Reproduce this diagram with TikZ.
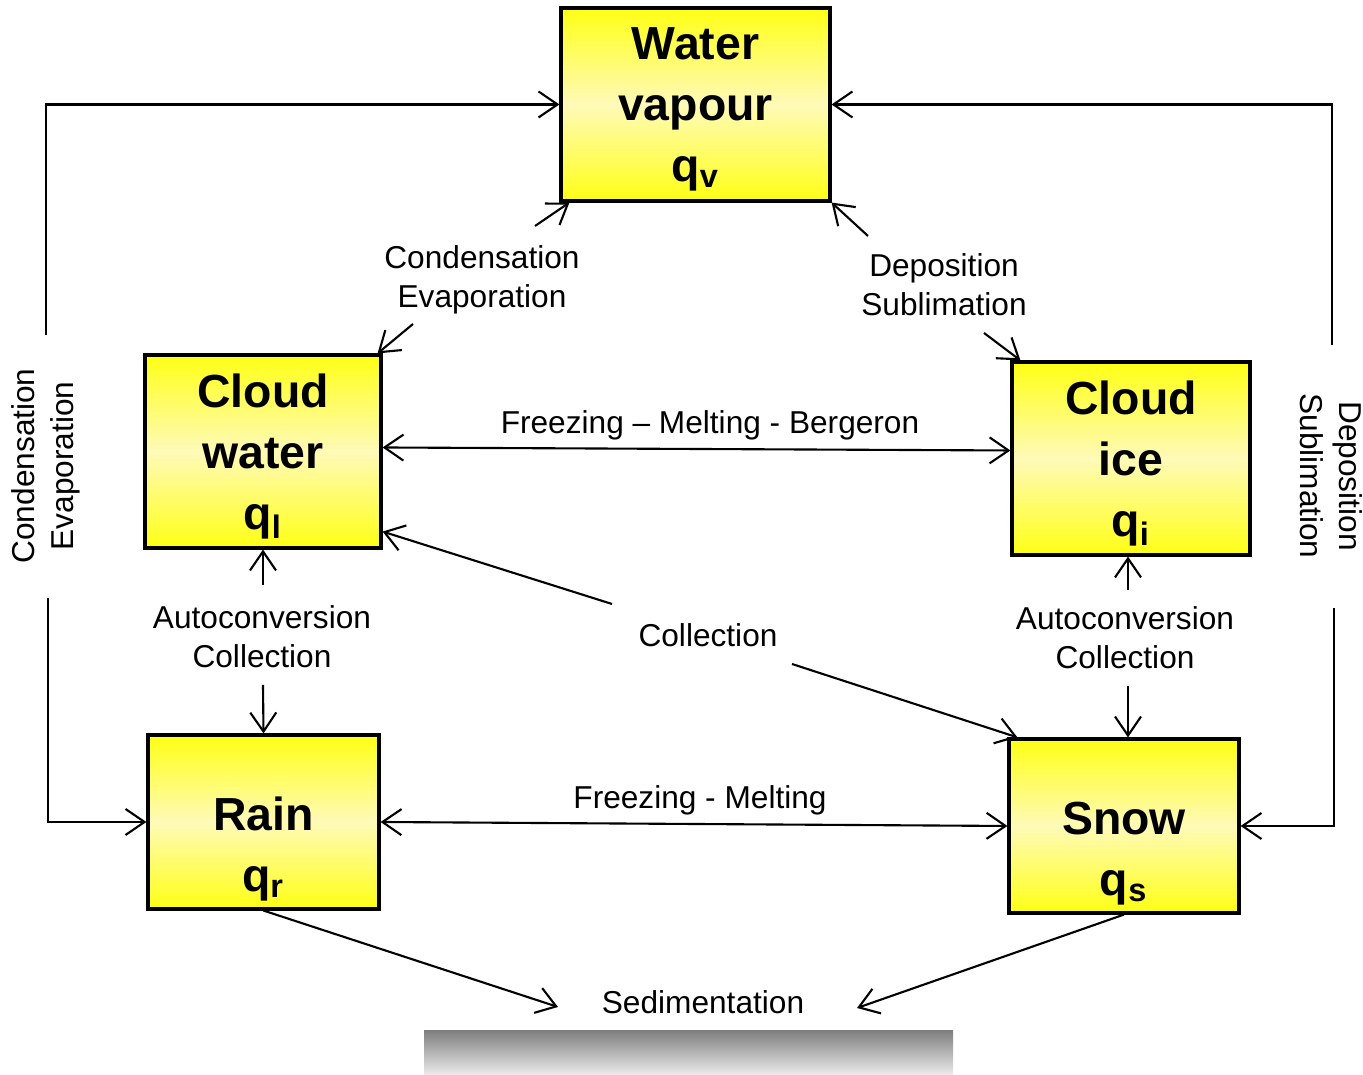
\documentclass[tikz,border=0pt]{standalone}
\usepackage{fontspec}
\setmainfont{Liberation Sans}
\usepackage{tikz}
\usetikzlibrary{arrows.meta,positioning,calc}
\definecolor{boxyellow}{HTML}{FFFF14}
\definecolor{boxpale}{HTML}{FFFAB8}
\definecolor{groundtop}{HTML}{808080}
\definecolor{groundbot}{HTML}{ECECEC}

\begin{document}
\begin{tikzpicture}[>={Straight Barb[length=1.9mm,width=2.6mm]}, line width=0.6pt,
  species/.style={draw=black, line width=0.9pt, top color=boxyellow, bottom color=boxyellow, middle color=boxpale,
    align=center, font=\fontsize{13.2}{17.3}\selectfont\bfseries, inner sep=0pt, text depth=0pt},
  proc/.style={font=\fontsize{9}{11}\selectfont, align=center, inner sep=1pt}]
\useasboundingbox (0,0) rectangle (13.63,10.75);
% the five water species
\node[species, minimum width=2.69cm, minimum height=1.93cm] (vap) at (6.955,9.705) {Water\\vapour\\q\textsubscript{v}};
\node[species, minimum width=2.36cm, minimum height=1.93cm] (cw) at (2.63,6.235) {Cloud\\water\\q\textsubscript{l}};
\node[species, minimum width=2.38cm, minimum height=1.93cm] (ci) at (11.31,6.165) {Cloud\\ice\\q\textsubscript{i}};
\node[species, minimum width=2.31cm, minimum height=1.74cm] (rain) at (2.635,2.53) {\rule{0pt}{5pt}\\Rain\\q\textsubscript{r}};
\node[species, minimum width=2.30cm, minimum height=1.74cm] (snow) at (11.24,2.49) {\rule{0pt}{5pt}\\Snow\\q\textsubscript{s}};
% ground
\shade[top color=groundtop, bottom color=groundbot] (4.24,0) rectangle (9.53,0.44);
% process labels
\node[proc] (cond) at (4.82,7.95) {Condensation\\Evaporation};
\node[proc] (dep) at (9.44,7.90) {Deposition\\Sublimation};
\node[proc] (berg) at (7.10,6.50) {Freezing -- Melting - Bergeron};
\node[proc] (acl) at (2.62,4.38) {Autoconversion\\Collection};
\node[proc] (coll) at (7.08,4.40) {Collection};
\node[proc] (acr) at (11.25,4.37) {Autoconversion\\Collection};
\node[proc] (frm) at (7.00,2.75) {Freezing - Melting};
\node[proc] (sed) at (7.03,0.73) {Sedimentation};
\node[proc, rotate=90] (condl) at (0.46,6.09) {Condensation\\Evaporation};
\node[proc, rotate=-90] (depr) at (13.31,5.99) {Deposition\\Sublimation};
% free ends of the broken connectors
\coordinate (lt) at (0.46,7.40);
\coordinate (lb) at (0.48,4.77);
\coordinate (rt) at (13.32,7.30);
\coordinate (rb) at (13.34,4.67);
\coordinate (c1) at (5.35,8.49);
\coordinate (c2) at (4.13,7.51);
\coordinate (d1) at (8.68,8.39);
\coordinate (d2) at (9.84,7.42);
\coordinate (a1) at (2.63,4.90);
\coordinate (a2) at (2.63,3.90);
\coordinate (a3) at (11.28,4.85);
\coordinate (a4) at (11.28,3.89);
\coordinate (k1) at (6.12,4.71);
\coordinate (k2) at (7.92,4.11);
\coordinate (s1) at (5.58,0.68);
\coordinate (s2) at (8.57,0.67);
% connectors
\draw[->] (lt) |- (vap.west);
\draw[->] (lb) |- (rain.west);
\draw[->] (rt) |- (vap.east);
\draw[->] (rb) |- (snow.east);
\draw[->] (c1) -- ([xshift=1mm]vap.south west);
\draw[->] (c2) -- ([xshift=-0.5mm]cw.north east);
\draw[->] (d1) -- (vap.south east);
\draw[->] (d2) -- ([xshift=1mm]ci.north west);
\draw[<->] ([yshift=0.4mm]cw.east) -- ([yshift=0.8mm]ci.west);
\draw[->] (a1) -- (cw.south);
\draw[->] (a2) -- (rain.north);
\draw[->] (a3) -- (a3 |- ci.south);
\draw[->] (a4) -- (a4 |- snow.north);
\draw[->] (k1) -- ([yshift=1.8mm]cw.south east);
\draw[->] (k2) -- ([xshift=1mm]snow.north west);
\draw[<->] (rain.east) -- (snow.west);
\draw[->] (rain.south) -- (s1);
\draw[->] (snow.south) -- (s2);
\end{tikzpicture}
\end{document}
